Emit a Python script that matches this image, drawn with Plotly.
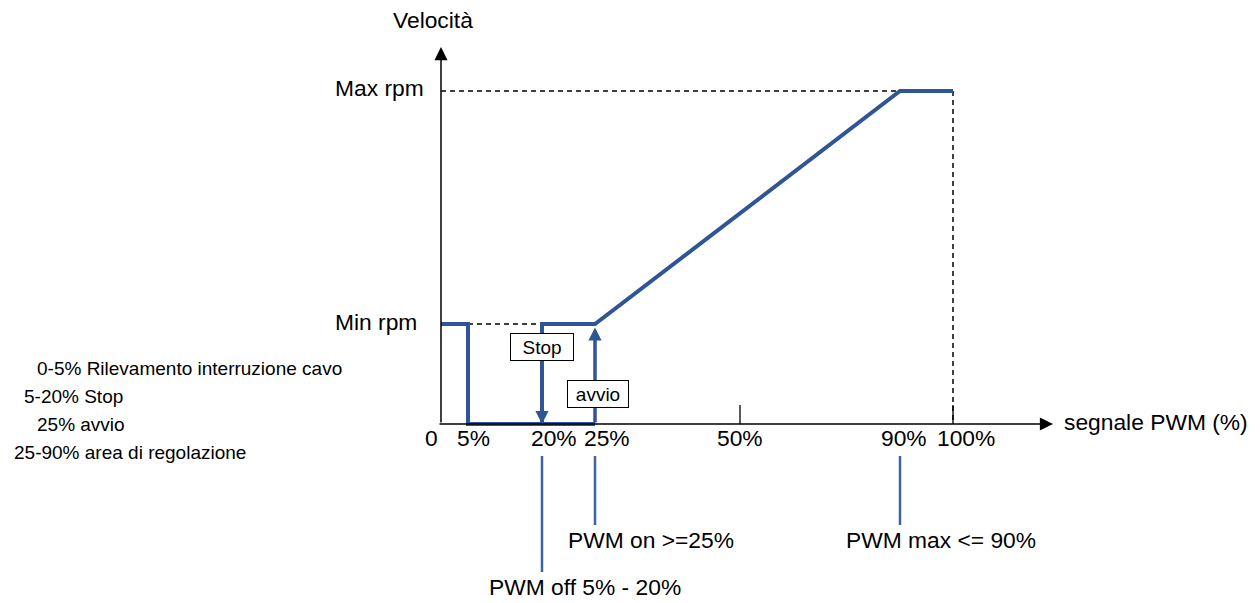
import numpy as np
import plotly.graph_objects as go

W, H = 1260, 603

# ---------------- data ----------------
pwm_ticks = [0, 5, 20, 25, 50, 90, 100]
tick_labels = ["0", "5%", "20%", "25%", "50%", "90%", "100%"]

min_rpm = 0.30   # normalised speed
max_rpm = 1.00

# low part: cable-break level then stop
low_pwm = [0, 5, 5, 25]
low_speed = [min_rpm, min_rpm, 0, 0]
# running part: restart and regulation ramp
run_pwm = [20, 20, 25, 90, 100]
run_speed = [0, min_rpm, min_rpm, max_rpm, max_rpm]

legend_lines = [
    "0-5% Rilevamento interruzione cavo",
    "5-20% Stop",
    "25% avvio",
    "25-90% area di regolazione",
]
callout_pwm = [25, 20, 90]
callout_text = ["PWM on >=25%", "PWM off 5% - 20%", "PWM max <= 90%"]

# ---------------- schematic scale (diagram is not to scale) ----------------
OX, OY = 441, 424          # origin in pixels
tick_place = [0, 27, 101, 154, 299, 459, 512]   # drawn offset of each tick from origin
Y_UNIT = 333               # pixels for full speed


def sx(p):
    return np.interp(p, pwm_ticks, tick_place)


def vy(py):  # pixel row -> speed units
    return (OY - py) / Y_UNIT


def px(x):  # pixel col -> x units
    return x - OX


def pp(x, y):  # pixel -> paper
    return x / W, 1 - y / H


BLUE = "#2F5597"
BLUE2 = "#3F62A3"
FONT = "Liberation Sans, Arial, sans-serif"

fig = go.Figure()

dash = dict(color="black", width=1.5, dash="5px,4px")
# dashed guide lines
fig.add_trace(go.Scatter(x=sx([0, 20]), y=[min_rpm, min_rpm], mode="lines", line=dash, hoverinfo="skip"))
fig.add_trace(go.Scatter(x=sx([0, 100]), y=[max_rpm, max_rpm], mode="lines", line=dash, hoverinfo="skip"))
fig.add_trace(go.Scatter(x=sx([100, 100]), y=[max_rpm, 0], mode="lines", line=dash, hoverinfo="skip"))

# tick marks
for t in [50, 100]:
    fig.add_trace(go.Scatter(x=sx([t, t]), y=[0, vy(405)], mode="lines",
                             line=dict(color="black", width=1.3), hoverinfo="skip"))

# blue curve
fig.add_trace(go.Scatter(x=sx(low_pwm), y=low_speed, mode="lines",
                         line=dict(color=BLUE, width=4), hoverinfo="skip"))
fig.add_trace(go.Scatter(x=sx(run_pwm), y=run_speed, mode="lines",
                         line=dict(color=BLUE, width=4), hoverinfo="skip"))

annotations = []
# axes with arrows
annotations.append(dict(x=0, y=vy(47), ax=0, ay=0, xref="x", yref="y", axref="x", ayref="y",
                        text="", showarrow=True, arrowhead=2, arrowwidth=1.5, arrowsize=1.75,
                        arrowcolor="black"))
annotations.append(dict(x=px(1053), y=0, ax=px(438), ay=0, xref="x", yref="y", axref="x", ayref="y",
                        text="", showarrow=True, arrowhead=2, arrowwidth=1.5, arrowsize=1.75,
                        arrowcolor="black"))
# stop / start arrows
annotations.append(dict(x=sx(20), y=0, ax=sx(20), ay=min_rpm, xref="x", yref="y", axref="x", ayref="y",
                        text="", showarrow=True, arrowhead=2, arrowwidth=3.5, arrowsize=0.75,
                        arrowcolor=BLUE))
annotations.append(dict(x=sx(25), y=min_rpm - 0.01, ax=sx(25), ay=0, xref="x", yref="y", axref="x", ayref="y",
                        text="", showarrow=True, arrowhead=2, arrowwidth=3.5, arrowsize=0.75,
                        arrowcolor=BLUE))

big = dict(family=FONT, size=22.8, color="black")
small = dict(family=FONT, size=19, color="black")

# tick labels
label_shift = [-10, 5, 12, 12, 0, 4, 13]
for t, lab, s in zip(pwm_ticks, tick_labels, label_shift):
    annotations.append(dict(x=sx(t), xshift=s, y=pp(0, 438)[1], xref="x", yref="paper",
                            text=lab, showarrow=False, font=big, xanchor="center", yanchor="middle"))

def txt(x, y, s, font, xanchor="center", **kw):
    a, b = pp(x, y)
    d = dict(x=a, y=b, xref="paper", yref="paper", text=s, showarrow=False, font=font,
             xanchor=xanchor, yanchor="middle")
    d.update(kw)
    annotations.append(d)

txt(1062, 422, "segnale PWM (%)", big, xanchor="left")
txt(433, 20, "Velocità", big)
txt(426, 88, "Max rpm", big, xanchor="right")
txt(419, 322, "Min rpm", big, xanchor="right")

# boxed labels
txt(541.5, 346.5, "Stop", small, bordercolor="black", borderwidth=1, borderpad=2,
    bgcolor="white", width=58, height=22)
txt(597.5, 393.5, "avvio", small, bordercolor="black", borderwidth=1, borderpad=2,
    bgcolor="white", width=56, height=22)

# left legend text
leg_x = [35, 22, 35, 12]
leg_y = [368, 396, 424, 452]
for s, x, y in zip(legend_lines, leg_x, leg_y):
    txt(x, y, s, small, xanchor="left")

# callouts
shapes = []
call_bottom = [525, 572, 525]
call_pos = [(651, 540), (585, 587), (941, 540)]
for p, s, yb, (cx, cy) in zip(callout_pwm, callout_text, call_bottom, call_pos):
    shapes.append(dict(type="line", xref="x", yref="paper", x0=sx(p), x1=sx(p),
                       y0=pp(0, 456)[1], y1=pp(0, yb)[1], line=dict(color=BLUE2, width=2.5)))
    txt(cx, cy, s, big)

fig.update_layout(
    width=W, height=H,
    margin=dict(l=0, r=0, t=0, b=0),
    paper_bgcolor="white", plot_bgcolor="white",
    showlegend=False,
    xaxis=dict(visible=False, range=[px(0), px(W)], fixedrange=True),
    yaxis=dict(visible=False, range=[vy(H), vy(0)], fixedrange=True),
    annotations=annotations,
    shapes=shapes,
)

fig.write_html("out.html", config={"displayModeBar": False},
               post_script="document.body.style.margin='0';document.body.style.overflow='hidden';")
